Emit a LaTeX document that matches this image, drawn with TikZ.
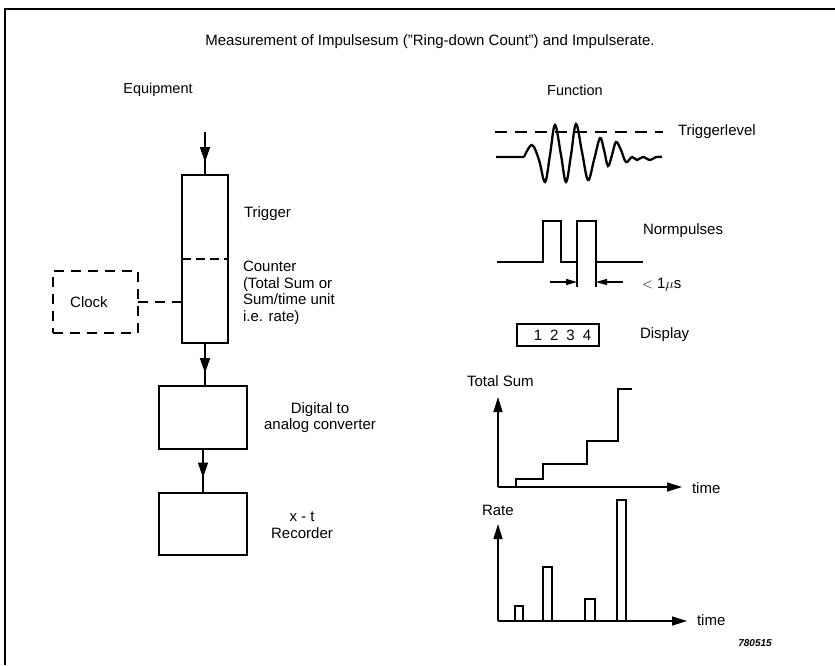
\documentclass[tikz,border=0pt]{standalone}
\usepackage{fontspec}
\setmainfont{Liberation Sans}
\usetikzlibrary{arrows.meta,decorations.markings}
\begin{document}
\begin{tikzpicture}[x=1pt,y=-1pt,
  line width=1.4pt,
  every node/.style={inner sep=0pt,outer sep=0pt},
  txt/.style={font=\fontsize{15}{16.5}\selectfont},
  hdr/.style={font=\fontsize{14.5}{16.5}\selectfont},
  blk/.style={draw,line width=1.4pt},
  dbox/.style={draw,line width=1.4pt,dash pattern=on 10pt off 7pt},
  tri/.style={-{Triangle[length=15pt,width=9pt]}},
  midarrow/.style={postaction={decorate},decoration={markings,
      mark=at position #1 with {\arrow{Triangle[length=15pt,width=10pt]}}}}
]
\useasboundingbox (0,0) rectangle (835,665);
% frame
\draw[line width=1.5pt] (5,665) -- (5,9) -- (835,9);
% titles
\node[font=\fontsize{15}{17}\selectfont] (title) at (430,42) {Measurement of Impulsesum (''Ring-down Count'') and Impulserate.};
\node[hdr] (equip) at (158,90) {Equipment};
\node[hdr] (func) at (575,90) {Function};

% equipment chain
\coordinate (in) at (205,132);
\node[blk,minimum width=46pt,minimum height=168pt] (tall) at (205,259) {};
\draw[line width=1.2pt,dash pattern=on 9pt off 5pt] (tall.west) -- (tall.east);
\node[dbox,minimum width=85pt,minimum height=62pt] (clock) at (95.5,302) {};
\node[txt] (clocktxt) at (89,302) {Clock};
\draw[line width=1.2pt,dash pattern=on 10pt off 7pt] (clock.east) -- (clock.east -| tall.west);
\node[blk,minimum width=88pt,minimum height=63pt] (dac) at (203,417.5) {};
\node[blk,minimum width=88pt,minimum height=62pt] (rec) at (203,524) {};
\draw[midarrow=0.7] (in) -- (tall.north);
\draw[midarrow=0.7] (tall.south) -- (tall.south |- dac.north);
\draw[midarrow=0.65] (dac.south) -- (dac.south |- rec.north);

\node[txt,anchor=west] (trigtxt) at (244,214) {Trigger};
\node[txt,anchor=west,align=left] (counttxt) at (243,293) {Counter\\(Total Sum or\\Sum/time unit\\i.e. rate)};
\node[txt,align=center] (dactxt) at (320,417.5) {Digital to\\analog converter};
\node[txt,align=center] (rectxt) at (302,525) {x - t\\Recorder};

% trigger level signal
\draw[line width=1.3pt,dash pattern=on 12pt off 8pt] (495,132) coordinate (tl1) -- (663,132) coordinate (tl2);
\draw[line width=2.3pt] (496,157) -- (524,157)
  plot[smooth,tension=0.6] coordinates {(524,157) (532,145) (539,160) (545,182) (550,155) (555,125) (561,155) (566,182) (571,155) (576,124) (582,152) (588,180) (594,160) (600,138) (604,150) (608,166) (612,155) (616,142) (621,150) (626,162) (632,157) (637,160) (643,157) (650,160) (656,157) (662,157)};
\node[txt,anchor=west] (tltxt) at (678,132) {Triggerlevel};

% normpulses
\draw[line width=1.6pt] (497,262) -| (543,221) -| (561,262) -| (577,221) -| (596,262) -- (643,262);
\draw[line width=1.1pt] (577,262) -- (577,287);
\draw[line width=1.1pt] (596,262) -- (596,287);
\coordinate (pa1) at (550,282); \coordinate (pa2) at (577,282);
\coordinate (pb1) at (623,282); \coordinate (pb2) at (596,282);
\draw[line width=1.1pt,-{Triangle[length=11pt,width=6pt]}] (pa1) -- (pa2);
\draw[line width=1.1pt,-{Triangle[length=11pt,width=6pt]}] (pb1) -- (pb2);
\node[txt,anchor=west] (nptxt) at (643,231) {Normpulses};
\node[txt,anchor=west] (ustxt) at (642,285) {$<$ 1$\mu$s};

% display
\node[blk,minimum width=82pt,minimum height=22pt] (disp) at (558,335) {};
\node[txt] (digits) at (562.5,335) {1\hspace{8pt}2\hspace{8pt}3\hspace{8pt}4};
\node[txt,anchor=west] (disptxt) at (640,335) {Display};

% total sum graph
\coordinate (o1) at (498,487);
\coordinate (y1) at (498,397);
\coordinate (x1) at (682,487);
\draw[tri] (o1) -- (y1);
\draw[tri] (o1) -- (x1);
\draw[line width=1.4pt] (516,487) |- (543,479) |- (587,464) |- (618,441) |- (632,389);
\node[txt,anchor=west] (tstxt) at (467,381) {Total Sum};
\node[txt,anchor=west] (time1) at (692,488) {time};

% rate graph
\coordinate (o2) at (498,621);
\coordinate (y2) at (498,524);
\coordinate (x2) at (687,621);
\draw[tri] (o2) -- (y2);
\draw[tri] (o2) -- (x2);
\draw[line width=1.4pt] (515,621) rectangle (523,606);
\draw[line width=1.4pt] (543,621) rectangle (552,567);
\draw[line width=1.4pt] (585,621) rectangle (595,599);
\draw[line width=1.4pt] (617,621) rectangle (626,500);
\node[txt,anchor=west] (ratetxt) at (482,510) {Rate};
\node[txt,anchor=west] (time2) at (697,620) {time};

\node[font=\fontsize{10}{12}\selectfont\bfseries\itshape] (code) at (755,643) {780515};
\end{tikzpicture}
\end{document}
